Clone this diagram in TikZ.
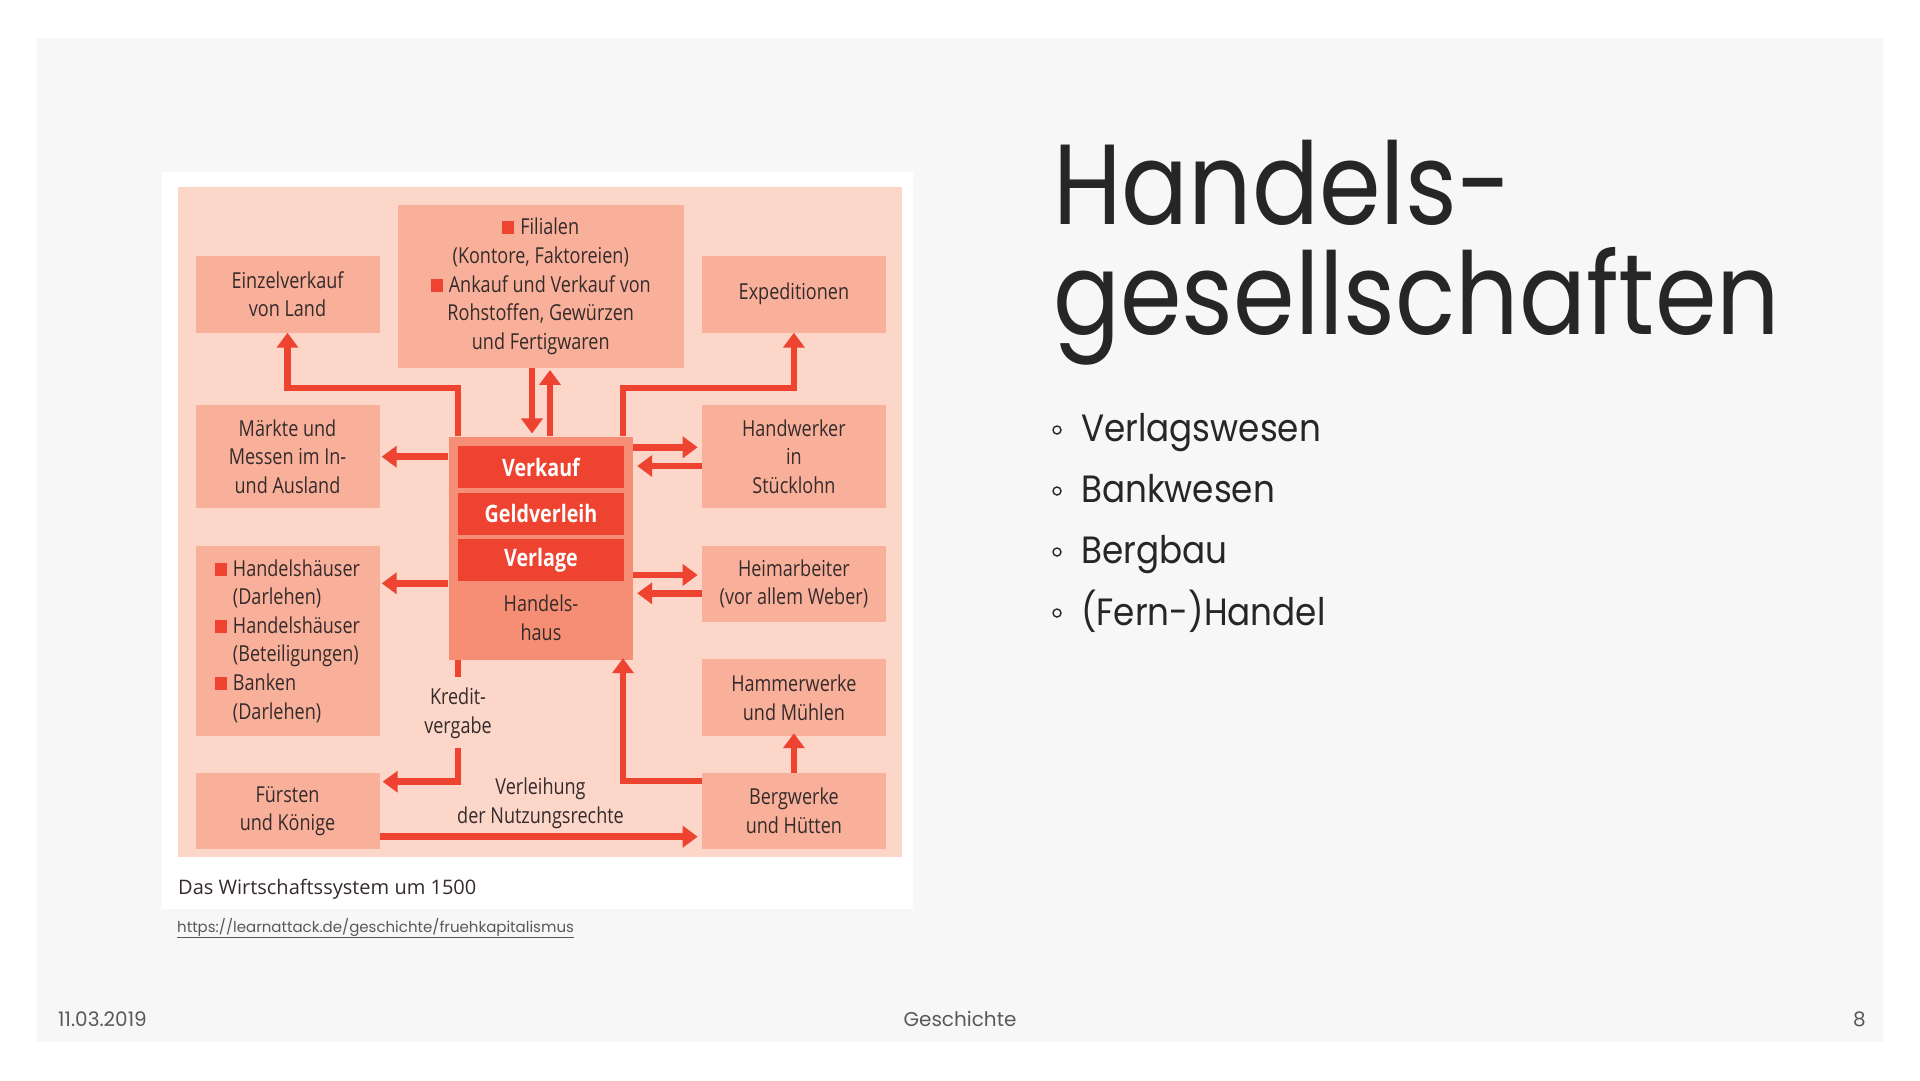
\documentclass[tikz,border=0pt]{standalone}
\usepackage{fontspec}
\setmainfont{Open Sans}
\newfontfamily\dfont[FakeStretch=0.82]{Open Sans}
\newfontfamily\tfont{Poppins}
\newfontfamily\ttfont[FakeStretch=0.87]{Poppins}
\newfontfamily\bfont[FakeStretch=0.9]{Poppins}
\usetikzlibrary{arrows.meta}
\definecolor{slide}{HTML}{F7F7F7}
\definecolor{pinkbg}{HTML}{FDD6CA}
\definecolor{boxc}{HTML}{F9B09B}
\definecolor{cenc}{HTML}{F68E75}
\definecolor{redc}{HTML}{EE4330}
\definecolor{txt}{HTML}{352B2B}
\definecolor{titc}{HTML}{262626}
\definecolor{foot}{HTML}{595959}
\newcommand{\sqm}{\textcolor{redc}{\rule[0.5pt]{12pt}{13pt}}\hspace{6pt}}
\newcommand{\sqi}{\hspace*{18pt}}
\tikzset{
  box/.style={fill=boxc, minimum width=184pt, inner sep=0pt, align=center, text=txt,
    font=\dfont\fontsize{22}{28.6}\selectfont},
  band/.style={fill=redc, minimum width=166pt, minimum height=42pt, inner sep=0pt, text=white,
    font=\dfont\bfseries\fontsize{24}{28}\selectfont},
  lbl/.style={inner sep=0pt, align=center, text=txt, font=\dfont\fontsize{22}{28.6}\selectfont},
  ln/.style={draw=redc, line width=6.5pt},
  arr/.style={draw=redc, line width=6.5pt, -{Triangle[width=21pt,length=15pt]}},
  bul/.style={draw=titc, line width=1.4pt},
  btxt/.style={anchor=base west, inner sep=0pt, text=titc, font=\bfont\fontsize{38}{40}\selectfont},
  ftxt/.style={inner sep=0pt, text=foot, font=\tfont\fontsize{20}{22}\selectfont}
}
\begin{document}
\begin{tikzpicture}[x=1pt,y=-1pt]
\useasboundingbox (0,0) rectangle (1920,1080);
\fill[white] (0,0) rectangle (1920,1080);
\fill[slide] (37,38) rectangle (1883,1042);
\fill[white] (162,172) rectangle (913,909);
\fill[pinkbg] (178,187) rectangle (902,857);

% boxes
\node[box, minimum height=77pt] (ein) at (287.5,294) {Einzelverkauf\\von Land};
\node[box, minimum width=285.5pt, minimum height=162.7pt] (fil) at (540.75,286.4)
  {\sqm Filialen\\(Kontore, Faktoreien)\\\sqm Ankauf und Verkauf von\\Rohstoffen, Gewürzen\\und Fertigwaren};
\node[box, minimum height=77pt] (exp) at (793.9,294) {Expeditionen};
\node[box, minimum height=103pt] (mar) at (287.5,456.7) {Märkte und\\Messen im In-\\und Ausland};
\node[box, minimum height=103pt] (hand) at (793.9,456.7) {Handwerker\\in\\Stücklohn};
\node[box, minimum height=190pt, align=left] (hh) at (287.5,641)
  {\sqm Handelshäuser\\\sqi(Darlehen)\\\sqm Handelshäuser\\\sqi(Beteiligungen)\\\sqm Banken\\\sqi(Darlehen)};
\node[box, minimum height=76pt] (heim) at (793.9,584) {Heimarbeiter\\(vor allem Weber)};
\node[box, minimum height=77pt] (hamm) at (793.9,697.5) {Hammerwerke\\und Mühlen};
\node[box, minimum height=76pt] (fur) at (287.5,811) {Fürsten\\und Könige};
\node[box, minimum height=76pt] (berg) at (793.9,811) {Bergwerke\\und Hütten};

% central
\node[fill=cenc, minimum width=184.5pt, minimum height=223.3pt, inner sep=0pt] (cen) at (540.75,548.3) {};
\node[band] (vk) at (541,467) {Verkauf};
\node[band] (gv) at (541,513.7) {Geldverleih};
\node[band] (vl) at (541,560.3) {Verlage};
\node[lbl] (hs) at (541,618) {Handels-\\haus};

% labels
\node[lbl] (kred) at (458,713) {Kredit-\\vergabe};
\node[lbl] (verl) at (540.5,803) {Verleihung\\der Nutzungsrechte};

% bend points
\coordinate (k1) at (458,388);
\coordinate (k2) at (623,388);
\coordinate (d1) at (532,0);
\coordinate (u1) at (550,0);
\coordinate (m1) at (0,456.7);
\coordinate (h1) at (0,447.3);
\coordinate (h2) at (0,466);
\coordinate (s1) at (0,583.3);
\coordinate (w1) at (0,575);
\coordinate (w2) at (0,593.3);
\coordinate (kr1) at (458,676.7);
\coordinate (kr2) at (458,748);
\coordinate (kr3) at (458,781.7);
\coordinate (b9) at (623,781);
\coordinate (f1) at (0,836.7);

% connectors
\draw[arr] (k1 |- cen.north) -- (k1) -| (ein.south);
\draw[arr] (k2 |- cen.north) -- (k2) -| (exp.south);
\draw[arr] (d1 |- fil.south) -- ([yshift=3pt]d1 |- cen.north);
\draw[arr] (u1 |- cen.north) -- ([yshift=-2pt]u1 |- fil.south);
\draw[arr] (cen.west |- m1) -- ([xshift=2pt]mar.east |- m1);
\draw[arr] (cen.east |- h1) -- ([xshift=-4pt]hand.west |- h1);
\draw[arr] (hand.west |- h2) -- ([xshift=4pt]cen.east |- h2);
\draw[arr] (cen.west |- s1) -- ([xshift=2pt]hh.east |- s1);
\draw[arr] (cen.east |- w1) -- ([xshift=-4pt]heim.west |- w1);
\draw[arr] (heim.west |- w2) -- ([xshift=4pt]cen.east |- w2);
\draw[ln] (k1 |- cen.south) -- (kr1);
\draw[arr] (kr2) -- (kr3) -- ([xshift=3pt]fur.east |- kr3);
\draw[arr] (berg.west |- b9) -- (b9) -- ([yshift=2pt]b9 |- cen.south);
\draw[arr] (fur.east |- f1) -- ([xshift=-4pt]berg.west |- f1);
\draw[arr] (berg.north) -- ([yshift=3pt]hamm.south);

% caption and source
\node[anchor=base west, inner sep=0pt, text=txt, font=\fontsize{20}{22}\selectfont] (cap) at (178,894) {Das Wirtschaftssystem um 1500};
\node[anchor=base west, inner sep=0pt, text=foot, font=\tfont\fontsize{15}{16}\selectfont] (url) at (177,932) {\underline{https://learnattack.de/geschichte/fruehkapitalismus}};

% title
\node[anchor=base west, inner sep=0pt, text=titc, font=\ttfont\fontsize{114}{110}\selectfont] (t1) at (1053,224) {Handels-};
\node[anchor=base west, inner sep=0pt, text=titc, font=\ttfont\fontsize{114}{110}\selectfont] (t2) at (1053,334) {gesellschaften};

% bullets
\draw[bul] (1057,430) circle (4);
\draw[bul] (1057,491) circle (4);
\draw[bul] (1057,552) circle (4);
\draw[bul] (1057,613) circle (4);
\node[btxt] (b1) at (1081,441.7) {Verlagswesen};
\node[btxt] (b2) at (1081,502.7) {Bankwesen};
\node[btxt] (b3) at (1081,563.3) {Bergbau};
\node[btxt] (b4) at (1081,625) {(Fern-)Handel};

% footer
\node[ftxt, anchor=base west] (date) at (58,1026) {11.03.2019};
\node[ftxt, anchor=base] (fach) at (960,1026) {Geschichte};
\node[ftxt, anchor=base east] (pg) at (1866,1026) {8};
\end{tikzpicture}
\end{document}
